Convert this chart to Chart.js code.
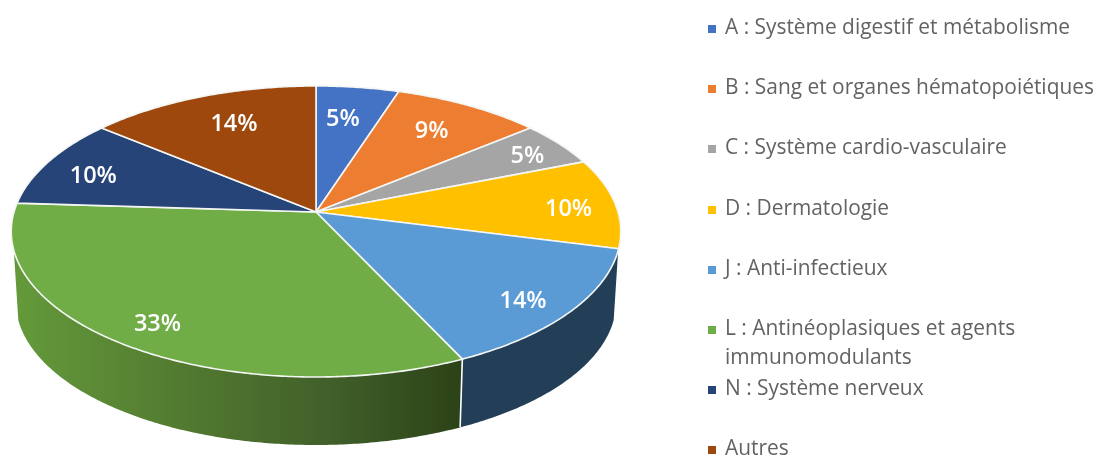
<!DOCTYPE html>
<html lang="fr">
<head>
<meta charset="utf-8">
<style>html,body{margin:0;padding:0;background:#fff}canvas{display:block}</style>
<script src="https://cdn.jsdelivr.net/npm/chart.js@4"></script>
</head>
<body>
<canvas id="c" width="1096" height="456"></canvas>
<script>
const categories = ["A : Système digestif et métabolisme","B : Sang et organes hématopoiétiques","C : Système cardio-vasculaire","D : Dermatologie","J : Anti-infectieux","L : Antinéoplasiques et agents\nimmunomodulants","N : Système nerveux","Autres"];
const shares = [5, 9, 5, 10, 14, 33, 10, 14];
const sliceColors = ["#4472c4","#ed7d31","#a5a5a5","#ffc000","#5b9bd5","#70ad47","#264478","#9e480e"];
const wallStops = {4:[[0,"#233f58"],[1,"#233f58"]],5:[[0,"#649a3b"],[0.38,"#527a30"],[0.70,"#41602a"],[1,"#2c4217"]]};
const labelRadius = [0.73,0.75,0.85,0.84,0.85,0.85,0.81,0.74];
const labelShift = [-1.3,-0.6,1,1.6,2.2,-0.2,-2.2,1.6];

// perspective projection of the unit pie disc onto the page
const top3d = {cx:316, cy:212, a:302, b:142.9, k:0.134};
const bot3d = {cx:316, cy:282.4, a:297.5, b:140.8, k:0.134};
const project = (p, phi, r=1) => {
  const u = r*Math.cos(phi), v = r*Math.sin(phi), d = 1 - p.k*v;
  return [p.cx + p.a*u/d, p.cy + p.b*v/d];
};
const traceArc = (ctx, p, from, to, first) => {
  const n = Math.max(2, Math.ceil(Math.abs(to-from)/0.01));
  for (let i=0;i<=n;i++){
    const [x,y] = project(p, from+(to-from)*i/n);
    if (i===0 && first) ctx.moveTo(x,y); else ctx.lineTo(x,y);
  }
};
const wallMin = 15*Math.PI/180, wallMax = 165*Math.PI/180;

const pie3d = {
  id:'pie3d',
  beforeDatasetDraw(chart, args){
    const ctx = chart.ctx, arcs = args.meta.data;
    // side walls
    arcs.forEach((arc,i)=>{
      const a = Math.max(arc.startAngle, wallMin), b = Math.min(arc.endAngle, wallMax);
      if (b <= a || !wallStops[i]) return;
      const pa = project(top3d,a), pb = project(top3d,b), qb = project(bot3d,b);
      const xs = [pa[0],pb[0],qb[0],project(bot3d,a)[0]];
      const g = ctx.createLinearGradient(Math.min(...xs),0,Math.max(...xs),0);
      const stops = wallStops[i];
      stops.forEach(s=>g.addColorStop(s[0],s[1]));
      ctx.beginPath();
      traceArc(ctx,top3d,a,b,true);
      traceArc(ctx,bot3d,b,a,false);
      ctx.closePath();
      ctx.fillStyle = g;
      ctx.fill();
    });
    // wall separators
    ctx.strokeStyle='#fff'; ctx.lineWidth=1.6;
    arcs.forEach(arc=>{
      if (arc.startAngle>wallMin && arc.startAngle<wallMax){
        const p=project(top3d,arc.startAngle), q=project(bot3d,arc.startAngle);
        ctx.beginPath(); ctx.moveTo(p[0],p[1]); ctx.lineTo(q[0],q[1]); ctx.stroke();
      }
    });
    // top faces
    arcs.forEach((arc,i)=>{
      ctx.beginPath();
      ctx.moveTo(top3d.cx,top3d.cy);
      traceArc(ctx,top3d,arc.startAngle,arc.endAngle,false);
      ctx.closePath();
      ctx.fillStyle = sliceColors[i];
      ctx.fill();
      ctx.lineJoin='round';
      ctx.strokeStyle='#f4f6f4'; ctx.lineWidth=1.6;
      ctx.stroke();
    });
    // value labels
    ctx.fillStyle='#fff';
    ctx.font='600 23.5px "Open Sans"';
    ctx.textAlign='center'; ctx.textBaseline='middle';
    arcs.forEach((arc,i)=>{
      const mid=(arc.startAngle+arc.endAngle)/2 + labelShift[i]*Math.PI/180;
      const [x,y]=project(top3d,mid,labelRadius[i]);
      ctx.fillText(shares[i]+'%',x,y+1.5);
    });
    return false;
  },
  afterDraw(chart){
    const ctx=chart.ctx;
    ctx.save();
    ctx.textAlign='left'; ctx.textBaseline='alphabetic';
    ctx.font='20.9px "Open Sans"';
    categories.forEach((label,i)=>{
      const base=34+60.2*i;
      ctx.fillStyle=sliceColors[i];
      ctx.fillRect(708,Math.round(base-9),8,8);
      ctx.fillStyle='#636363';
      label.split('\n').forEach((line,j)=>ctx.fillText(line,725,base+j*29));
    });
    ctx.restore();
  }
};

new Chart(document.getElementById('c'),{
  type:'pie',
  data:{labels:categories,datasets:[{data:shares,backgroundColor:sliceColors}]},
  options:{responsive:false,animation:false,layout:{padding:0},
    plugins:{legend:{display:false},tooltip:{enabled:false}}},
  plugins:[pie3d]
});
</script>
</body>
</html>
